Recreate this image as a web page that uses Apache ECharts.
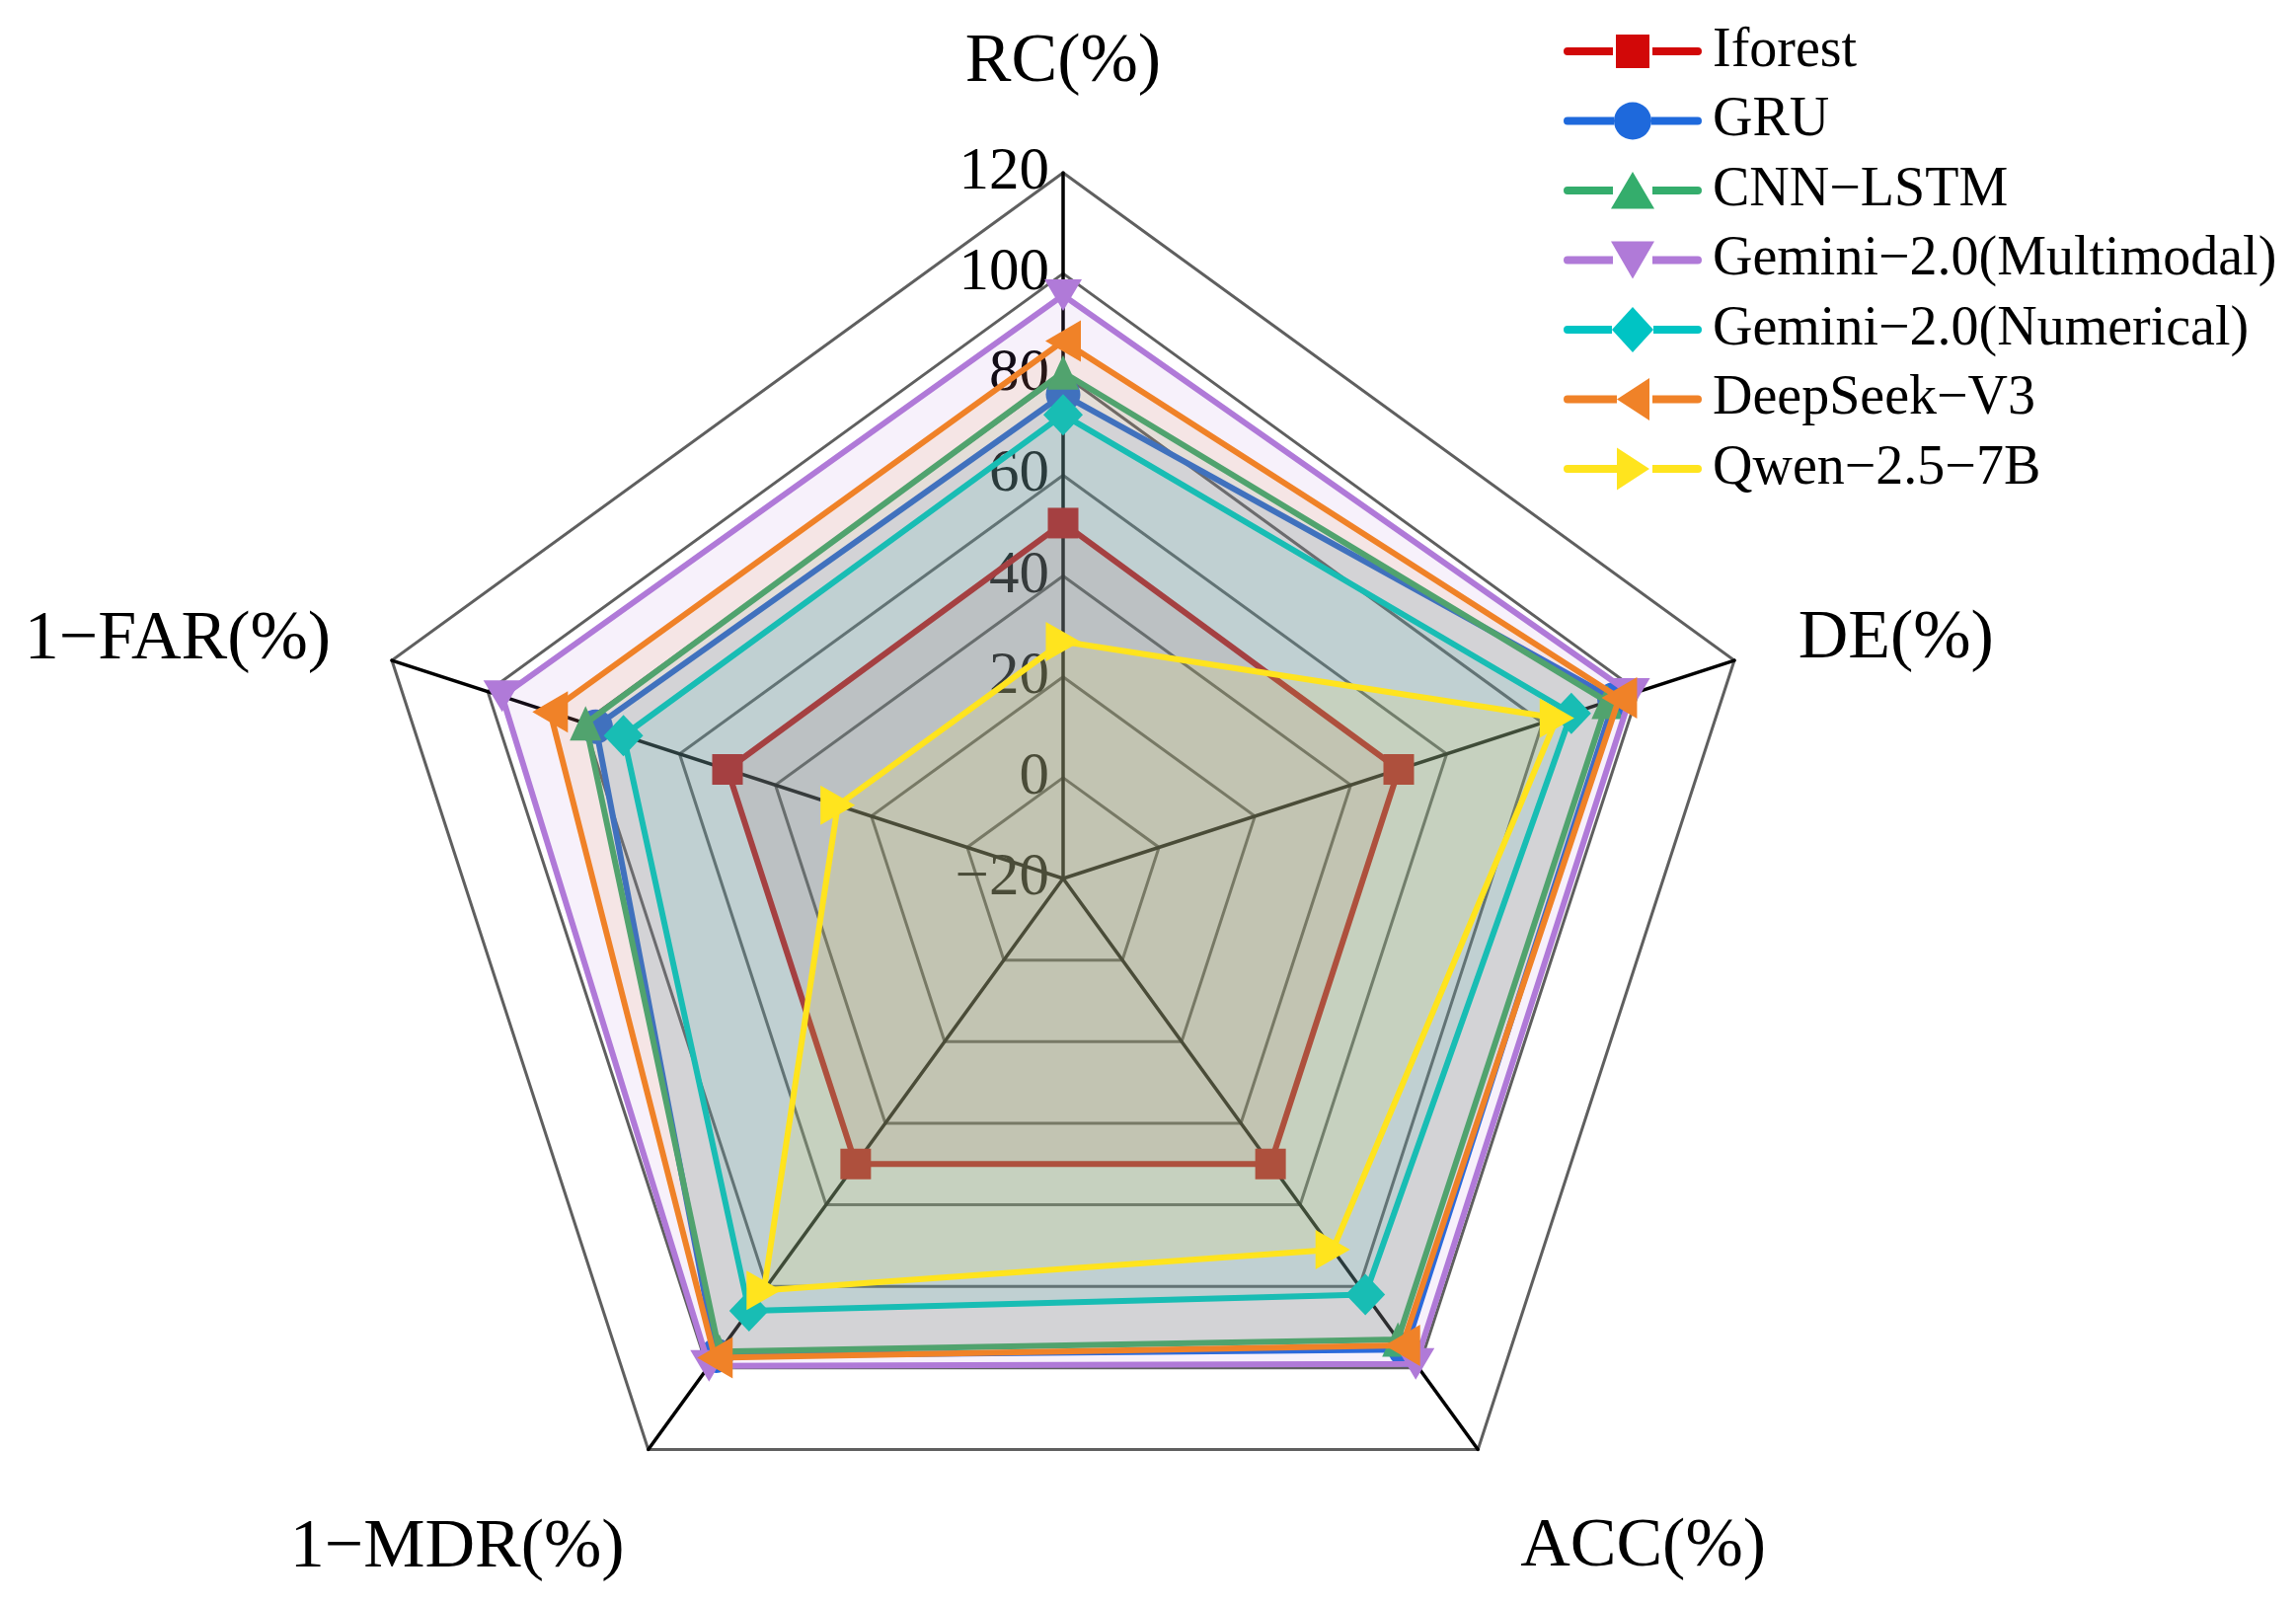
<!DOCTYPE html>
<html><head><meta charset="utf-8">
<script src="https://cdn.jsdelivr.net/npm/echarts@6/dist/echarts.min.js"></script>
<style>html,body{margin:0;padding:0;background:#fff}#c{width:2326px;height:1625px}</style>
</head><body><div id="c"></div>
<script>
// Indicators (counter-clockwise from top)
const indicatorNames = ['RC(%)', '1−FAR(%)', '1−MDR(%)', 'ACC(%)', 'DE(%)'];
const axisMin = -20, axisMax = 120, axisStep = 20;
const modelNames = ['Iforest', 'GRU', 'CNN−LSTM', 'Gemini−2.0(Multimodal)', 'Gemini−2.0(Numerical)', 'DeepSeek−V3', 'Qwen−2.5−7B'];
// values in order: RC, 1-FAR, 1-MDR, ACC, DE
const iforest   = [50.5, 50, 50, 50, 50];
const gru       = [76, 77.5, 97, 95.5, 95];
const cnnLstm   = [80.4, 79.6, 96, 93, 93.5];
const geminiMM  = [95.7, 97, 99.5, 99, 98.5];
const geminiNum = [72, 71.7, 86, 82, 86];
const deepseek  = [86.6, 87, 97.5, 94.5, 96];
const qwen      = [27, 27, 81, 71, 83];
const allValues = [iforest, gru, cnnLstm, geminiMM, geminiNum, deepseek, qwen];

const colors = ['#d20808', '#1e69dc', '#34ad6c', '#b07ad8', '#00c4c4', '#f08228', '#ffe41e'];
const FONT = '"Liberation Serif", "Times New Roman", serif';

const symbols = [
  {symbol: 'rect', size: 31, rot: 0},
  {symbol: 'circle', size: 35, rot: 0},
  {symbol: 'triangle', size: [32, 35], rot: 0},
  {symbol: 'triangle', size: [38, 32], rot: 180},
  {symbol: 'diamond', size: [40, 42], rot: 0},
  {symbol: 'triangle', size: [42, 36], rot: 90},
  {symbol: 'triangle', size: [40, 35], rot: -90}
];

const corners = 'M0 0 L0.01 0 L0 0.01 Z M140 46 L139.99 46 L140 45.99 Z ';
function lineSegs(a, b) {
  return 'M4 19 L' + a + ' 19 L' + a + ' 27 L4 27 A4 4 0 0 1 4 19 Z M' + b + ' 19 L136 19 A4 4 0 0 1 136 27 L' + b + ' 27 Z ';
}
const markerPaths = [
  lineSegs(50, 90) + 'M53 6 L87 6 L87 40 L53 40 Z',
  lineSegs(51, 89) + 'M51 23 A19 19 0 1 1 89 23 A19 19 0 1 1 51 23 Z',
  lineSegs(50, 90) + 'M70 4 L92 41.5 L48 41.5 Z',
  lineSegs(50, 90) + 'M48 4 L92 4 L70 42 Z',
  lineSegs(49, 91) + 'M70 0 L91 23 L70 46 L49 23 Z',
  lineSegs(54, 90) + 'M54 23 L87 1.5 L87 44.5 Z',
  lineSegs(54, 90) + 'M54 1.5 L87 23 L54 44.5 Z'
];

const nameGaps = [76, 65, 41, 73, 68];

const chart = echarts.init(document.getElementById('c'), null, {renderer: 'canvas'});
chart.setOption({
  animation: false,
  backgroundColor: '#fff',
  legend: {
    orient: 'vertical', left: 1584, top: 24, padding: 0,
    itemWidth: 140, itemHeight: 46, itemGap: 14.5,
    textStyle: {fontFamily: FONT, fontSize: 56, color: '#000', lineHeight: 56, padding: [0, 0, 0, 6]},
    itemStyle: {borderWidth: 0},
    data: modelNames.map((n, i) => ({name: n, icon: 'path://' + corners + markerPaths[i], itemStyle: {color: colors[i], borderWidth: 0}}))
  },
  radar: {
    center: [1077, 890],
    radius: 715,
    startAngle: 90,
    splitNumber: (axisMax - axisMin) / axisStep,
    shape: 'polygon',
    indicator: indicatorNames.map((n, i) => ({
      name: n, min: axisMin, max: axisMax, nameGap: nameGaps[i],
      axisLabel: {show: i === 0}
    })),
    axisName: {
      color: '#000', fontFamily: FONT, fontSize: 70,
      formatter: function (name) {
        if (name === 'ACC(%)') return '{acc|' + name + '}';
        if (name === '1−MDR(%)') return '{mdr|' + name + '}';
        return name;
      },
      rich: {
        acc: {fontFamily: FONT, fontSize: 70, color: '#000', padding: [80, 0, 0, 0]},
        mdr: {fontFamily: FONT, fontSize: 70, color: '#000', padding: [134, 0, 0, 0]}
      }
    },
    axisLine: {show: true, lineStyle: {color: '#000', width: 3.5}},
    splitLine: {show: true, lineStyle: {color: '#5f5f5f', width: 3}},
    splitArea: {show: false},
    axisTick: {show: false},
    axisLabel: {
      show: false, color: '#000', fontFamily: FONT, fontSize: 61, margin: 14,
      formatter: v => String(v).replace('-', '−')
    }
  },
  series: allValues.map((vals, i) => ({
    type: 'radar',
    z: 2 + i,
    symbol: symbols[i].symbol,
    symbolSize: symbols[i].size,
    symbolRotate: symbols[i].rot,
    lineStyle: {color: colors[i], width: 6},
    itemStyle: {color: colors[i], borderWidth: 0},
    areaStyle: {color: colors[i], opacity: 0.1},
    data: [{name: modelNames[i], value: vals}]
  }))
});
</script>
</body></html>
